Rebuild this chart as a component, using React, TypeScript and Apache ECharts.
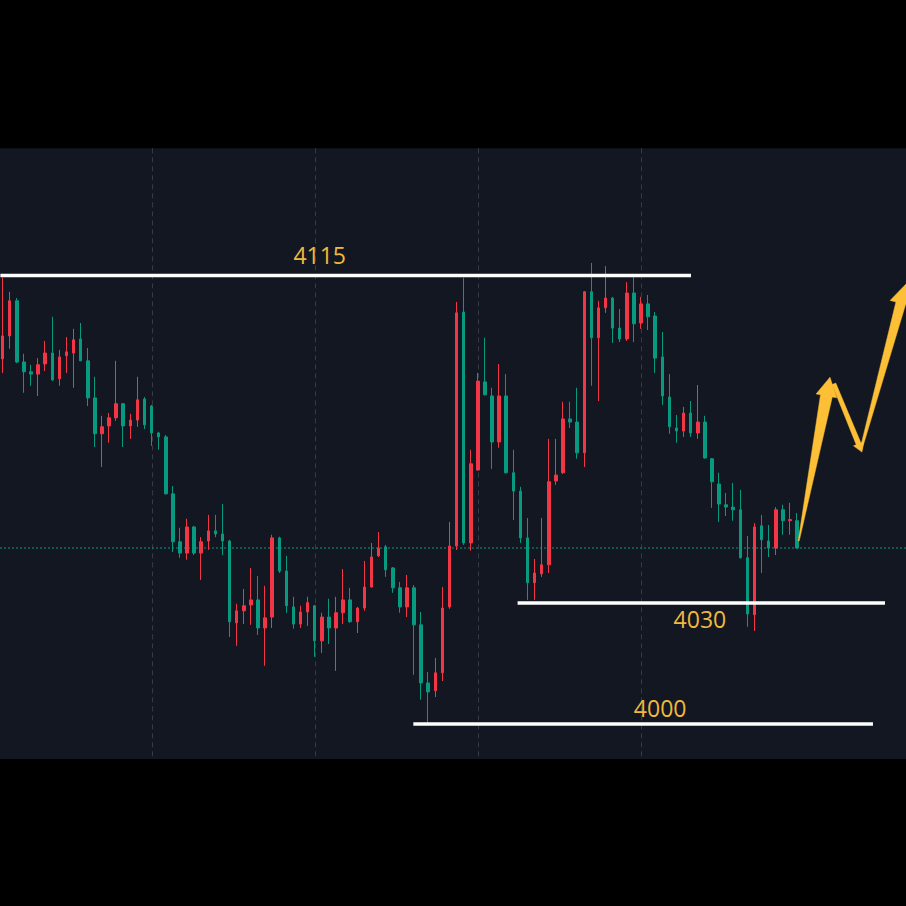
import React, { useEffect, useRef } from 'react';
import * as echarts from 'echarts';

// ---- candle data (one entry per bar, left to right) ----
const opens = [
  4093.6, 4099.5, 4108.5, 4092.8, 4090.3, 4089.7, 4092.3, 4095.1, 4088.5, 4094.4,
  4095.1, 4098.7, 4093.1, 4083.6, 4074.4, 4076.4, 4078.5, 4082.1, 4076.4, 4077.9,
  4083.3, 4081.5, 4074.6, 4073.6, 4059.0, 4046.7, 4043.8, 4050.5, 4043.8, 4046.9,
  4049.5, 4048.7, 4046.9, 4025.9, 4029.0, 4030.5, 4031.8, 4024.6, 4027.4, 4047.7,
  4039.2, 4030.0, 4025.6, 4028.7, 4030.3, 4021.3, 4027.4, 4024.6, 4028.5, 4031.8,
  4026.2, 4029.7, 4035.1, 4043.1, 4045.4, 4040.0, 4034.9, 4030.0, 4034.9, 4025.4,
  4010.5, 4008.5, 4013.1, 4030.0, 4045.6, 4105.6, 4046.4, 4065.1, 4087.7, 4084.1,
  4072.3, 4084.1, 4064.4, 4059.7, 4047.7, 4036.2, 4038.5, 4040.8, 4062.3, 4064.4,
  4078.2, 4077.4, 4069.5, 4110.8, 4099.0, 4106.7, 4109.2, 4101.5, 4098.7, 4110.5,
  4102.8, 4107.7, 4104.6, 4094.1, 4083.8, 4075.9, 4075.1, 4079.7, 4074.6, 4077.4,
  4068.0, 4061.5, 4056.2, 4055.6, 4054.9, 4042.6, 4028.0, 4050.8, 4046.9, 4045.1,
  4054.9, 4052.1, 4052.1,
];
const closes = [
  4099.5, 4108.5, 4092.8, 4090.3, 4089.7, 4092.1, 4095.1, 4088.2, 4094.1, 4095.4,
  4098.5, 4093.1, 4083.6, 4074.4, 4076.2, 4078.5, 4082.1, 4076.4, 4077.9, 4083.1,
  4076.7, 4074.6, 4073.6, 4059.0, 4046.7, 4043.8, 4050.5, 4043.8, 4046.7, 4049.5,
  4048.7, 4046.9, 4026.2, 4029.0, 4030.3, 4031.8, 4024.6, 4027.2, 4047.7, 4039.2,
  4030.3, 4025.6, 4028.7, 4031.1, 4021.3, 4027.4, 4024.6, 4028.5, 4031.8, 4026.2,
  4029.7, 4035.1, 4042.8, 4045.1, 4039.5, 4034.9, 4030.0, 4034.9, 4025.4, 4010.5,
  4008.2, 4013.1, 4029.7, 4045.6, 4105.4, 4046.4, 4066.7, 4087.9, 4084.4, 4072.3,
  4084.1, 4064.4, 4059.7, 4047.7, 4036.2, 4038.7, 4040.8, 4062.1, 4063.8, 4078.2,
  4077.4, 4069.5, 4110.8, 4099.0, 4106.7, 4109.2, 4101.5, 4098.7, 4110.5, 4102.6,
  4107.7, 4104.4, 4093.8, 4084.1, 4076.2, 4075.1, 4079.7, 4074.6, 4077.4, 4068.2,
  4062.1, 4056.4, 4055.6, 4054.9, 4042.6, 4028.2, 4050.5, 4047.2, 4045.1, 4054.9,
  4052.1, 4052.4, 4045.1,
];
const lows = [
  4090.0, 4096.2, 4092.5, 4084.9, 4086.7, 4084.1, 4090.5, 4088.0, 4086.7, 4090.0,
  4086.2, 4093.0, 4081.5, 4071.0, 4065.9, 4072.1, 4077.7, 4071.0, 4073.1, 4076.2,
  4075.6, 4071.3, 4070.3, 4058.8, 4044.1, 4042.6, 4042.1, 4043.3, 4036.9, 4044.6,
  4047.9, 4043.3, 4022.3, 4020.0, 4025.6, 4025.4, 4022.8, 4014.9, 4024.6, 4038.7,
  4028.5, 4024.4, 4024.6, 4025.1, 4017.2, 4018.2, 4020.5, 4013.6, 4025.6, 4025.9,
  4023.3, 4029.0, 4035.0, 4042.8, 4037.7, 4033.6, 4028.5, 4027.4, 4012.6, 4006.2,
  4000.3, 4006.9, 4011.0, 4029.5, 4044.6, 4045.9, 4044.4, 4064.9, 4084.2, 4065.4,
  4070.8, 4064.2, 4052.3, 4046.4, 4031.8, 4031.8, 4037.7, 4038.7, 4061.3, 4064.1,
  4075.9, 4068.0, 4065.9, 4086.7, 4082.8, 4105.4, 4097.7, 4097.9, 4098.2, 4097.9,
  4101.3, 4101.0, 4090.0, 4081.8, 4074.4, 4072.1, 4073.6, 4073.6, 4073.1, 4068.0,
  4055.4, 4051.8, 4053.3, 4052.1, 4042.4, 4024.9, 4023.8, 4038.7, 4042.8, 4043.3,
  4048.5, 4048.5, 4045.0,
];
const highs = [
  4114.4, 4110.8, 4109.2, 4094.9, 4092.1, 4093.8, 4098.2, 4104.4, 4095.9, 4099.2,
  4101.3, 4102.8, 4096.4, 4089.0, 4079.0, 4079.7, 4093.1, 4082.3, 4079.5, 4089.0,
  4083.8, 4081.8, 4074.9, 4074.1, 4061.0, 4050.3, 4052.6, 4050.8, 4047.9, 4053.6,
  4053.6, 4056.4, 4047.2, 4030.8, 4034.6, 4040.0, 4037.9, 4035.4, 4048.5, 4048.0,
  4043.1, 4032.6, 4030.3, 4032.6, 4030.5, 4028.5, 4032.1, 4032.6, 4039.7, 4034.9,
  4030.0, 4041.8, 4046.4, 4049.2, 4045.9, 4040.2, 4036.4, 4038.2, 4035.6, 4028.7,
  4013.3, 4016.9, 4035.1, 4051.8, 4108.2, 4114.4, 4070.3, 4090.0, 4099.0, 4086.2,
  4092.3, 4089.7, 4070.3, 4060.8, 4052.8, 4042.3, 4052.8, 4073.1, 4073.1, 4082.6,
  4082.6, 4086.2, 4111.0, 4118.2, 4108.5, 4117.4, 4109.5, 4106.4, 4113.3, 4115.4,
  4109.5, 4110.0, 4105.6, 4100.5, 4089.7, 4079.2, 4081.3, 4082.8, 4086.9, 4079.0,
  4068.2, 4064.4, 4059.2, 4061.8, 4060.0, 4048.2, 4051.5, 4053.6, 4051.0, 4055.6,
  4056.2, 4056.7, 4054.1,
];

// ---- horizontal levels (bar-index units and prices) ----
const levelPrices = [4115, 4031, 4000];
const levelLabels = ['4115', '4030', '4000'];
const levelStart = [-0.32, 72.6, 57.9];
const levelEnd = [97.05, 124.4, 122.7];
const levelLabelAt = [44.7, 98.3, 92.7];

// ---- vertical grid lines (bar index) ----
const gridLineAt = [21, 44, 67, 90];

// ---- projected path arrows (bar index / price) ----
const arrowFromX = [117.2, 112.23, 121.0];
const arrowFromY = [4087.2, 4046.9, 4070.3];
const arrowToX = [121.15, 116.64, 127.36];
const arrowToY = [4069.7, 4088.9, 4112.8];

// ---- styles ----
const UP = '#F23645';
const DOWN = '#089981';
const ARROW = '#FDBF36';
const LABEL = '#F0B93B';
const labelOffsetY = [-20.5, 16, -15.5];
const arrowTailW = [4, 1, 2];
const arrowNeckW = [5, 12, 10];
const arrowHeadW = [11, 21, 22];
const arrowHeadL = [9, 19, 20];

const N_CAT = 129;
const BAND = 7.096;
const CHART_LEFT = -8.34;

export default function App() {
  const ref = useRef<HTMLDivElement>(null);
  useEffect(() => {
    if (!ref.current) return;
    const chart = echarts.init(ref.current, undefined, { renderer: 'svg' });
    const categories = Array.from({ length: N_CAT }, (_, i) => String(i));
    const candleData: any[] = [['-', '-', '-', '-']];
    opens.forEach((o, i) => candleData.push([o, closes[i], lows[i], highs[i]]));
    const lastClose = closes[closes.length - 1];

    const option: any = {
      animation: false,
      backgroundColor: '#000000',
      grid: {
        left: 0,
        right: 0,
        top: 148.3,
        bottom: 147,
        show: true,
        backgroundColor: '#131722',
        borderWidth: 0,
      },
      xAxis: [
        { type: 'category', data: categories, boundaryGap: true, show: false },
        { type: 'value', min: -1.5, max: N_CAT - 1.5, show: false },
      ],
      yAxis: { type: 'value', min: 3991, max: 4147.6, show: false, splitLine: { show: false } },
      series: [
        {
          type: 'custom',
          xAxisIndex: 1,
          z: 1,
          silent: true,
          data: gridLineAt.map((v) => [v]),
          renderItem: (params: any, api: any) => {
            const cs = params.coordSys;
            const x = Math.round(api.coord([api.value(0), 4050])[0]) + 0.5;
            return {
              type: 'line',
              shape: { x1: x, y1: cs.y, x2: x, y2: cs.y + cs.height },
              style: { stroke: '#363a45', lineWidth: 1, lineDash: [5, 4] },
            };
          },
        },
        {
          type: 'custom',
          xAxisIndex: 1,
          z: 1,
          silent: true,
          data: [[0, lastClose]],
          renderItem: (params: any, api: any) => {
            const cs = params.coordSys;
            const y = api.coord([0, api.value(1)])[1];
            return {
              type: 'line',
              shape: { x1: cs.x, y1: y, x2: cs.x + cs.width, y2: y },
              style: { stroke: DOWN, lineWidth: 1, lineDash: [2, 2] },
            };
          },
        },
        {
          type: 'candlestick',
          xAxisIndex: 0,
          z: 2,
          data: candleData,
          barWidth: 3,
          itemStyle: {
            color: UP,
            color0: DOWN,
            borderColor: UP,
            borderColor0: DOWN,
            borderWidth: 1,
          },
        },
        {
          type: 'custom',
          xAxisIndex: 1,
          z: 3,
          silent: true,
          data: levelPrices.map((p, i) => [levelStart[i], levelEnd[i], p, levelLabelAt[i]]),
          renderItem: (params: any, api: any) => {
            const i = params.dataIndex;
            const p0 = api.coord([api.value(0), api.value(2)]);
            const p1 = api.coord([api.value(1), api.value(2)]);
            const pl = api.coord([api.value(3), api.value(2)]);
            return {
              type: 'group',
              children: [
                {
                  type: 'line',
                  shape: { x1: p0[0], y1: p0[1], x2: p1[0], y2: p1[1] },
                  style: { stroke: '#ffffff', lineWidth: 3.5 },
                },
                {
                  type: 'text',
                  x: pl[0],
                  y: pl[1] + labelOffsetY[i],
                  style: {
                    text: levelLabels[i],
                    fill: LABEL,
                    fontSize: 23,
                    fontFamily: '"Open Sans", "Noto Sans", sans-serif',
                    align: 'center',
                    verticalAlign: 'middle',
                    textAlign: 'center',
                    textVerticalAlign: 'middle',
                  },
                },
              ],
            };
          },
        },
        {
          type: 'custom',
          xAxisIndex: 1,
          z: 4,
          silent: true,
          data: arrowFromX.map((x, i) => [x, arrowFromY[i], arrowToX[i], arrowToY[i]]),
          renderItem: (params: any, api: any) => {
            const i = params.dataIndex;
            const a = api.coord([api.value(0), api.value(1)]);
            const b = api.coord([api.value(2), api.value(3)]);
            const dx = b[0] - a[0];
            const dy = b[1] - a[1];
            const len = Math.sqrt(dx * dx + dy * dy) || 1;
            const ux = dx / len;
            const uy = dy / len;
            const nx = -uy;
            const ny = ux;
            const hl = arrowHeadL[i];
            const bx = b[0] - ux * hl;
            const by = b[1] - uy * hl;
            const tw = arrowTailW[i] / 2;
            const nw = arrowNeckW[i] / 2;
            const hw = arrowHeadW[i] / 2;
            const points = [
              [a[0] + nx * tw, a[1] + ny * tw],
              [bx + nx * nw, by + ny * nw],
              [bx + nx * hw, by + ny * hw],
              [b[0], b[1]],
              [bx - nx * hw, by - ny * hw],
              [bx - nx * nw, by - ny * nw],
              [a[0] - nx * tw, a[1] - ny * tw],
            ];
            return {
              type: 'polygon',
              shape: { points },
              style: { fill: ARROW, stroke: ARROW, lineWidth: 0.5 },
            };
          },
        },
      ],
    };
    chart.setOption(option);
    return () => chart.dispose();
  }, []);
  return (
    <div
      style={{
        position: 'fixed',
        left: 0,
        top: 0,
        width: 906,
        height: 906,
        overflow: 'hidden',
        background: '#000',
      }}
    >
      <div
        ref={ref}
        style={{
          position: 'absolute',
          left: CHART_LEFT,
          top: 0,
          width: N_CAT * BAND,
          height: 906,
        }}
      />
    </div>
  );
}
